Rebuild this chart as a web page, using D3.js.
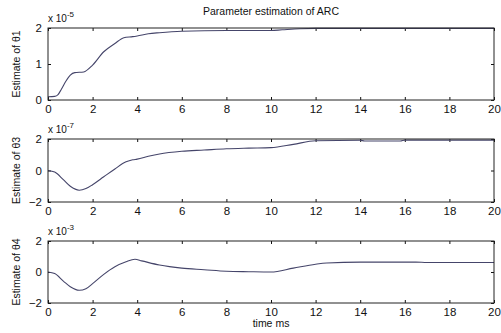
<!DOCTYPE html>
<html>
<head>
<meta charset="utf-8">
<script src="https://cdn.jsdelivr.net/npm/d3@7"></script>
<style>
  body { margin: 0; background: #fff; }
  text { font-family: "Liberation Sans", Arial, sans-serif; fill: #111; }
</style>
</head>
<body>
<svg id="grafiek" width="501" height="333"></svg>
<script>
// tijd in ms
var tijd1 = [0, 0.3, 0.45, 0.6, 0.8, 1.0, 1.2, 1.6, 2.0, 2.5, 3.0, 3.4, 3.8, 4.0, 4.5, 5.0, 6.0, 8.0, 10.0, 10.5, 11.3, 12, 20];
var theta1 = [0.09, 0.1, 0.15, 0.3, 0.52, 0.69, 0.76, 0.78, 0.97, 1.34, 1.57, 1.73, 1.76, 1.78, 1.84, 1.87, 1.91, 1.93, 1.93, 1.95, 1.98, 1.99, 1.99];

var tijd3 = [0, 0.3, 0.7, 1.0, 1.4, 1.7, 2.0, 2.5, 3.0, 3.5, 3.8, 4.0, 4.5, 5.0, 6.0, 7.0, 8.0, 9.0, 10.0, 11.0, 12.0, 14.0, 14.2, 15.8, 16.0, 20];
var theta3 = [0, -0.1, -0.6, -1.0, -1.25, -1.15, -0.9, -0.4, 0.1, 0.55, 0.68, 0.72, 0.9, 1.05, 1.22, 1.3, 1.38, 1.42, 1.45, 1.66, 1.89, 1.92, 1.87, 1.87, 1.93, 1.93];

var tijd4 = [0, 0.3, 0.7, 1.0, 1.4, 1.7, 2.0, 2.5, 3.0, 3.5, 3.9, 4.2, 5.0, 6.0, 7.0, 8.0, 9.0, 10.0, 11.0, 12.0, 12.5, 14.0, 16.5, 17.0, 20];
var theta4 = [0, -0.1, -0.6, -0.95, -1.18, -1.08, -0.75, -0.15, 0.34, 0.66, 0.82, 0.72, 0.45, 0.25, 0.15, 0.05, 0.02, 0.0, 0.25, 0.5, 0.58, 0.64, 0.64, 0.61, 0.61];

var xTicks = [0, 2, 4, 6, 8, 10, 12, 14, 16, 18, 20];

var panelen = [
  { tijd: tijd1, waarde: theta1, domein: [0, 2], yTicks: [0, 1, 2], label: "Estimate of θ1", exp: "-5", top: 28, bottom: 100 },
  { tijd: tijd3, waarde: theta3, domein: [-2, 2], yTicks: [-2, 0, 2], label: "Estimate of θ3", exp: "-7", top: 139, bottom: 202 },
  { tijd: tijd4, waarde: theta4, domein: [-2, 2], yTicks: [-2, 0, 2], label: "Estimate of θ4", exp: "-3", top: 241, bottom: 303 }
];

var svg = d3.select("#grafiek");
var links = 48, rechts = 494;

//schalen
var x = d3.scaleLinear().domain([0, 20]).range([links, rechts]);

svg.append("text")
  .attr("x", 271).attr("y", 15)
  .attr("text-anchor", "middle")
  .attr("font-size", 10.5)
  .text("Parameter estimation of ARC");

panelen.forEach(function (p) {
  var y = d3.scaleLinear().domain(p.domein).range([p.bottom, p.top]);
  var g = svg.append("g");

  // onder en boven as
  var onder = g.append("g").attr("transform", "translate(0," + p.bottom + ")")
    .call(d3.axisBottom(x).tickValues(xTicks).tickSizeInner(-3).tickSizeOuter(0).tickPadding(5).tickFormat(d3.format("d")));
  var boven = g.append("g").attr("transform", "translate(0," + p.top + ")")
    .call(d3.axisTop(x).tickValues(xTicks).tickSizeInner(-3).tickSizeOuter(0).tickFormat(""));
  var linksAs = g.append("g").attr("transform", "translate(" + links + ",0)")
    .call(d3.axisLeft(y).tickValues(p.yTicks).tickSizeInner(-3).tickSizeOuter(0).tickPadding(6).tickFormat(d3.format("d")));
  var rechtsAs = g.append("g").attr("transform", "translate(" + rechts + ",0)")
    .call(d3.axisRight(y).tickValues(p.yTicks).tickSizeInner(-3).tickSizeOuter(0).tickFormat(""));

  [onder, boven, linksAs, rechtsAs].forEach(function (a) {
    a.select(".domain").remove();
    a.selectAll("line").attr("stroke", "#111");
    a.selectAll("text").attr("font-size", 11.5).attr("font-family", "Liberation Sans, Arial, sans-serif").attr("fill", "#111");
  });

  // lijn
  var punten = p.tijd.map(function (t, i) { return [t, p.waarde[i]]; });
  g.append("path")
    .datum(punten)
    .attr("fill", "none")
    .attr("stroke", "#45456a")
    .attr("stroke-width", 1.1)
    .attr("d", d3.line().curve(d3.curveMonotoneX)
      .x(function (d) { return x(d[0]); })
      .y(function (d) { return y(d[1]); }));

  g.append("rect")
    .attr("x", links).attr("y", p.top)
    .attr("width", rechts - links).attr("height", p.bottom - p.top)
    .attr("fill", "none").attr("stroke", "#222").attr("stroke-width", 1);

  // exponent
  var ex = g.append("text").attr("x", links).attr("y", p.top - 6).attr("font-size", 10);
  ex.append("tspan").text("x 10");
  ex.append("tspan").attr("dy", -5).attr("font-size", 8).text(p.exp);

  g.append("text")
    .attr("transform", "translate(20," + ((p.top + p.bottom) / 2) + ") rotate(-90)")
    .attr("text-anchor", "middle")
    .attr("font-size", 10.5)
    .text(p.label);
});

svg.append("text")
  .attr("x", 271).attr("y", 327)
  .attr("text-anchor", "middle")
  .attr("font-size", 10.5)
  .text("time ms");
</script>
</body>
</html>
